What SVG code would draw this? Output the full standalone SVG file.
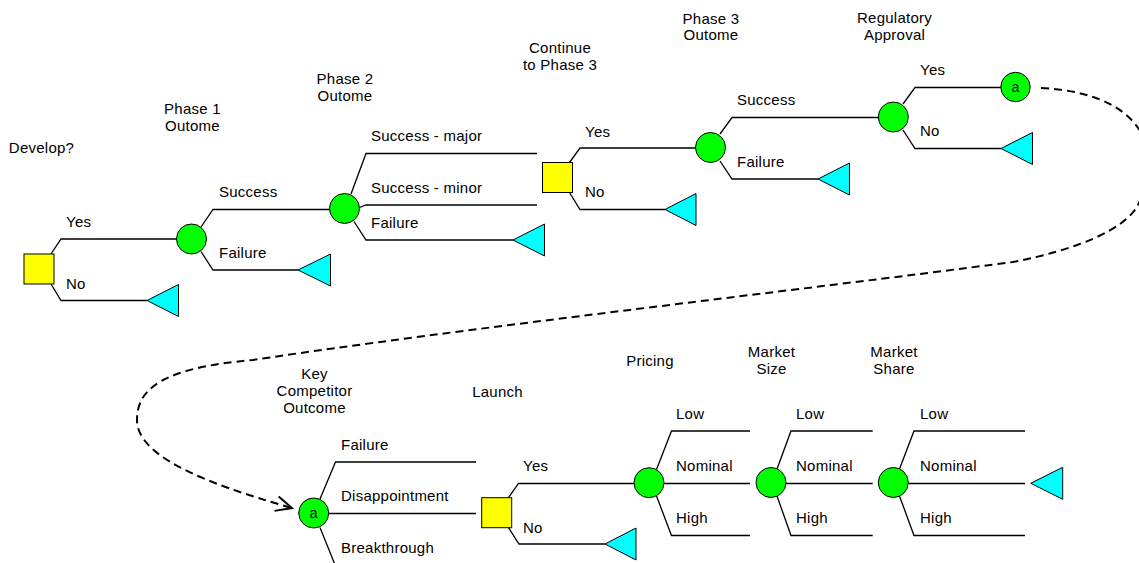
<svg xmlns="http://www.w3.org/2000/svg" width="1139" height="563" viewBox="0 0 1139 563">
  <style>
    text { font-family: "Liberation Sans", Arial, sans-serif; font-size: 15px; fill: #000; letter-spacing: 0.25px; }
    .hdr { text-anchor: middle; }
    .br { fill: none; stroke: #000; stroke-width: 1.3; }
    .chance { fill: #00ff00; stroke: #000; stroke-width: 1; }
    .decision { fill: #ffff00; stroke: #000; stroke-width: 1; }
    .end { fill: #00ffff; stroke: #000; stroke-width: 1; }
    .ref { font-size: 14px; text-anchor: middle; letter-spacing: 0; }
    .link { fill: none; stroke: #000; stroke-width: 2; stroke-dasharray: 8 5; }
  </style>
  <defs>
    <marker id="openArrow" markerUnits="userSpaceOnUse" markerWidth="24" markerHeight="24" viewBox="-20 -12 24 24" refX="0" refY="0" orient="auto">
      <path d="M -16 -7.5 L 0 0 L -16 7.5" fill="none" stroke="#000" stroke-width="2"/>
    </marker>
  </defs>

  <!-- branches and their labels -->
  <g id="connectors">
    <!-- Develop? -->
    <polyline class="br" points="51,254 61,239 177,239"/>
    <polyline class="br" points="51,284 61,300.5 147,300.5"/>
    <text x="66" y="227">Yes</text>
    <text x="66" y="288.5">No</text>
    <!-- Phase 1 -->
    <polyline class="br" points="201,227 213,209.5 330,209.5"/>
    <polyline class="br" points="201,251.5 213,270 298,270"/>
    <text x="219" y="197">Success</text>
    <text x="219" y="258">Failure</text>
    <!-- Phase 2 -->
    <polyline class="br" points="351,194 366,153.5 537,153.5"/>
    <polyline class="br" points="359.5,207.5 366,205 537,205"/>
    <polyline class="br" points="354,221.5 366,240 513,240"/>
    <text x="371" y="141">Success - major</text>
    <text x="371" y="192.5">Success - minor</text>
    <text x="371" y="227.5">Failure</text>
    <!-- Continue to Phase 3 -->
    <polyline class="br" points="569.5,162.5 580,148 696,148"/>
    <polyline class="br" points="569.5,192.5 580,209.5 665,209.5"/>
    <text x="585" y="136.5">Yes</text>
    <text x="585" y="197">No</text>
    <!-- Phase 3 -->
    <polyline class="br" points="720,134 732,117.5 878.5,117.5"/>
    <polyline class="br" points="720,161 732,179 818,179"/>
    <text x="737" y="105">Success</text>
    <text x="737" y="166.5">Failure</text>
    <!-- Regulatory approval -->
    <polyline class="br" points="903,104 915,87.5 1001,87.5"/>
    <polyline class="br" points="903,130 915,148.5 1001,148.5"/>
    <text x="920" y="75">Yes</text>
    <text x="920" y="136">No</text>

    <!-- Key competitor outcome -->
    <polyline class="br" points="320,499 335.5,462 476,462"/>
    <polyline class="br" points="329,513.5 476,513.5"/>
    <polyline class="br" points="320,527.5 335.5,566 476,566"/>
    <text x="341" y="449.5">Failure</text>
    <text x="341" y="501">Disappointment</text>
    <text x="341" y="552.5">Breakthrough</text>
    <!-- Launch -->
    <polyline class="br" points="508.5,497.7 518.5,483.5 634,483.5"/>
    <polyline class="br" points="508.5,527.7 519,544 605,544"/>
    <text x="523" y="471">Yes</text>
    <text x="523" y="532.5">No</text>
    <!-- Pricing -->
    <polyline class="br" points="656.5,469.5 671.5,431 750,431"/>
    <polyline class="br" points="664,483.5 750,483.5"/>
    <polyline class="br" points="656.5,496 671.5,535.5 750,535.5"/>
    <text x="676" y="419">Low</text>
    <text x="676" y="471">Nominal</text>
    <text x="676" y="523">High</text>
    <!-- Market size -->
    <polyline class="br" points="777,469 791,431 872.7,431"/>
    <polyline class="br" points="786,483.5 872.7,483.5"/>
    <polyline class="br" points="777,496 791,535.5 872.7,535.5"/>
    <text x="796" y="419">Low</text>
    <text x="796" y="471">Nominal</text>
    <text x="796" y="523">High</text>
    <!-- Market share -->
    <polyline class="br" points="899.5,469 914,431 1025,431"/>
    <polyline class="br" points="908.3,483.5 1025,483.5"/>
    <polyline class="br" points="899.5,496 914,535.5 1025,535.5"/>
    <text x="920" y="419">Low</text>
    <text x="920" y="471">Nominal</text>
    <text x="920" y="523">High</text>

    <!-- off-page link a -> a -->
    <path class="link" marker-end="url(#openArrow)"
          d="M 1041 88 C 1130 92, 1170 140, 1138 205
             C 1125 230, 1075 250, 1013 262
             C 800 290, 450 330, 253 360
             C 160 368, 137 390, 137 420
             C 137 455, 200 482, 292 508"/>
  </g>

  <!-- top row nodes -->
  <g id="develop">
    <text class="hdr" x="41.5" y="153">Develop?</text>
    <rect class="decision" x="24" y="254" width="30" height="30"/>
  </g>
  <g id="develop-no">
    <polygon class="end" points="147,300.5 178.5,284.5 178.5,316.5"/>
  </g>
  <g id="phase1">
    <text class="hdr" x="192.5" y="114">Phase 1</text>
    <text class="hdr" x="192.5" y="130.5">Outome</text>
    <circle class="chance" cx="191.5" cy="239" r="15"/>
  </g>
  <g id="phase1-failure">
    <polygon class="end" points="298,270 330.5,254 330.5,286"/>
  </g>
  <g id="phase2">
    <text class="hdr" x="345" y="84">Phase 2</text>
    <text class="hdr" x="345" y="100.7">Outome</text>
    <circle class="chance" cx="344.5" cy="208.5" r="15"/>
  </g>
  <g id="phase2-failure">
    <polygon class="end" points="513,240 544.5,224 544.5,256"/>
  </g>
  <g id="continue">
    <text class="hdr" x="560" y="53.3">Continue</text>
    <text class="hdr" x="560" y="70">to Phase 3</text>
    <rect class="decision" x="542.5" y="162.5" width="30" height="30"/>
  </g>
  <g id="continue-no">
    <polygon class="end" points="665,209.5 696,193.5 696,225.5"/>
  </g>
  <g id="phase3">
    <text class="hdr" x="711" y="23.5">Phase 3</text>
    <text class="hdr" x="711" y="40">Outome</text>
    <circle class="chance" cx="710.5" cy="147.5" r="15"/>
  </g>
  <g id="phase3-failure">
    <polygon class="end" points="818,179 849.5,163 849.5,195"/>
  </g>
  <g id="regulatory">
    <text class="hdr" x="894.5" y="23">Regulatory</text>
    <text class="hdr" x="894.5" y="39.5">Approval</text>
    <circle class="chance" cx="893.3" cy="117" r="15"/>
  </g>
  <g id="regulatory-no">
    <polygon class="end" points="1001,148.5 1032.5,132.5 1032.5,164.5"/>
  </g>
  <g id="link-out">
    <circle class="chance" cx="1015.5" cy="87" r="14.7"/>
    <text class="ref" x="1015.5" y="91.5">a</text>
  </g>

  <!-- bottom row nodes -->
  <g id="link-in">
    <text class="hdr" x="314.5" y="379">Key</text>
    <text class="hdr" x="314.5" y="396">Competitor</text>
    <text class="hdr" x="314.5" y="413">Outcome</text>
    <circle class="chance" cx="313.7" cy="513" r="15"/>
    <text class="ref" x="313.7" y="517.5">a</text>
  </g>
  <g id="launch">
    <text class="hdr" x="497.5" y="397">Launch</text>
    <rect class="decision" x="481.7" y="497.7" width="30" height="30"/>
  </g>
  <g id="launch-no">
    <polygon class="end" points="605,544 636,528 636,560"/>
  </g>
  <g id="pricing">
    <text class="hdr" x="650" y="366">Pricing</text>
    <circle class="chance" cx="649" cy="482.7" r="15"/>
  </g>
  <g id="market-size">
    <text class="hdr" x="771.5" y="357.3">Market</text>
    <text class="hdr" x="771.5" y="374.3">Size</text>
    <circle class="chance" cx="771" cy="482.5" r="15"/>
  </g>
  <g id="market-share">
    <text class="hdr" x="894" y="357.3">Market</text>
    <text class="hdr" x="894" y="374.3">Share</text>
    <circle class="chance" cx="893.3" cy="482.5" r="15"/>
  </g>
  <g id="outcome-end">
    <polygon class="end" points="1030.7,483.3 1062.7,467.3 1062.7,499.3"/>
  </g>
</svg>
